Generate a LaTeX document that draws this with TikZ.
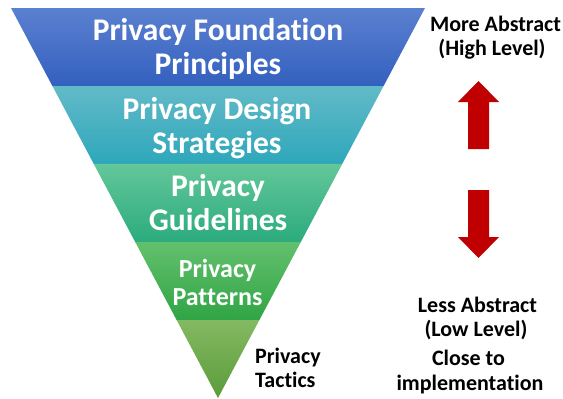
\documentclass[tikz,border=0pt]{standalone}
\usepackage{fontspec}
\setmainfont[Ligatures=NoCommon]{Carlito}
\usetikzlibrary{calc}
\definecolor{bAt}{HTML}{5B80D0}
\definecolor{bAb}{HTML}{3360BF}
\definecolor{bBt}{HTML}{62BAC8}
\definecolor{bBb}{HTML}{2EA7BB}
\definecolor{bCt}{HTML}{63C799}
\definecolor{bCb}{HTML}{2BAB7E}
\definecolor{bDt}{HTML}{63C06D}
\definecolor{bDb}{HTML}{30A545}
\definecolor{bEt}{HTML}{84B962}
\definecolor{bEb}{HTML}{5A9C3A}
\definecolor{arrowred}{HTML}{C00000}
\tikzset{
  bandtext/.style={text=white, font=\bfseries, align=center, inner sep=0pt},
  sidetext/.style={text=black, font=\bfseries\fontsize{22}{24}\selectfont, inner sep=0pt},
  bigarrow/.style={fill=arrowred, draw=none},
}
\begin{document}
\begin{tikzpicture}[x=1pt,y=-1pt]
\useasboundingbox (0,0) rectangle (563,399);
\coordinate (TL) at (11,8);
\coordinate (TR) at (425,8);
\coordinate (AP) at (218,398);
\foreach \t/\n in {0.2/1,0.4/2,0.6/3,0.8/4}{
  \coordinate (L\n) at ($(TL)!\t!(AP)$);
  \coordinate (R\n) at ($(TR)!\t!(AP)$);
}
\shade[top color=bAt, bottom color=bAb] (TL) -- (TR) -- (R1) -- (L1) -- cycle;
\shade[top color=bBt, bottom color=bBb] (L1) -- (R1) -- (R2) -- (L2) -- cycle;
\shade[top color=bCt, bottom color=bCb] (L2) -- (R2) -- (R3) -- (L3) -- cycle;
\shade[top color=bDt, bottom color=bDb] (L3) -- (R3) -- (R4) -- (L4) -- cycle;
\shade[top color=bEt, bottom color=bEb] (L4) -- (R4) -- (AP) -- cycle;

\node[bandtext, font=\bfseries\fontsize{31.5}{34}\selectfont] (foundation) at (218,49) {Privacy Foundation\\Principles};
\node[bandtext, font=\bfseries\fontsize{31.5}{34}\selectfont] (design) at (217,128) {Privacy Design\\Strategies};
\node[bandtext, font=\bfseries\fontsize{31.5}{34}\selectfont] (guidelines) at (218,203) {Privacy\\Guidelines};
\node[bandtext, font=\bfseries\fontsize{26}{28}\selectfont] (patterns) at (217.5,282) {Privacy\\Patterns};
\node[sidetext, align=left, anchor=west] (tactics) at (255,368) {Privacy\\Tactics};

\node[sidetext, anchor=base] (more) at (495.5,31) {More Abstract};
\node[sidetext, anchor=base] (high) at (492,55) {(High Level)};
\node[sidetext, anchor=base] (less) at (477.5,312) {Less Abstract};
\node[sidetext, anchor=base] (low) at (476,336) {(Low Level)};
\node[sidetext, anchor=base] (close) at (468.5,365) {Close to};
\node[sidetext, anchor=base] (impl) at (470,390) {implementation};

\fill[bigarrow] (478.5,81) -- (499,102) -- (489,102) -- (489,149) -- (468,149) -- (468,102) -- (458,102) -- cycle;
\fill[bigarrow] (478.5,258) -- (499,237) -- (489,237) -- (489,190) -- (468,190) -- (468,237) -- (458,237) -- cycle;
\end{tikzpicture}
\end{document}
